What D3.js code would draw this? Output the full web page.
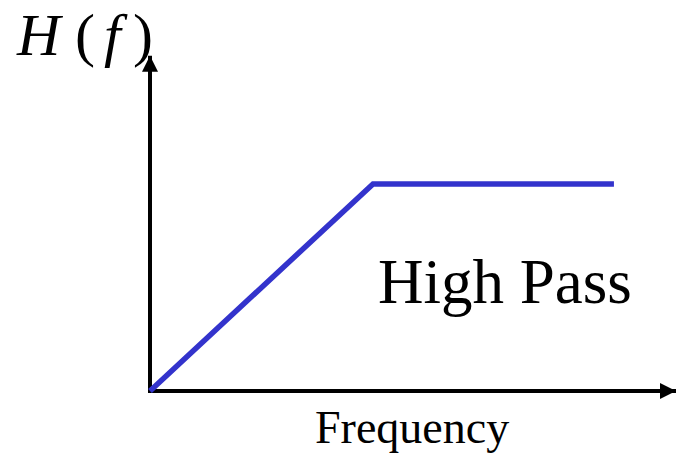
<!DOCTYPE html>
<html lang="en">
<head>
<meta charset="UTF-8">
<title>High Pass</title>
<style>
    body { margin: 0; padding: 0; background: #fff; }
    svg { display: block; }
</style>
</head>
<body>
<div id="chart"></div>
<script src="https://cdn.jsdelivr.net/npm/d3@7"></script>
<script>
// response curve: normalised frequency vs gain
const freq = [0, 0.424, 0.882];
const gain = [0, 1, 1];
const axisMax = { x: 1, y: 1.62 };

const w = 677;
const h = 460;
const serif = '"Liberation Serif", "Times New Roman", serif';

const xScale = d3.scaleLinear().domain([0, 1]).range([150, 676]);
const yScale = d3.scaleLinear().domain([0, 1]).range([391, 184]);

const svg = d3.select('#chart').append('svg')
    .attr('width', w)
    .attr('height', h);

// arrow heads
const defs = svg.append('defs');
defs.append('marker')
    .attr('id', 'arrow')
    .attr('viewBox', '0 0 16 16')
    .attr('refX', 16).attr('refY', 8)
    .attr('markerWidth', 16).attr('markerHeight', 16)
    .attr('markerUnits', 'userSpaceOnUse')
    .attr('orient', 'auto')
    .append('path')
    .attr('d', 'M0,0 L16,8 L0,16 Z')
    .attr('fill', '#000');

// x axis
svg.append('line')
    .attr('x1', xScale(0) - 2).attr('y1', yScale(0))
    .attr('x2', xScale(axisMax.x)).attr('y2', yScale(0))
    .attr('stroke', '#000').attr('stroke-width', 4)
    .attr('marker-end', 'url(#arrow)');

// y axis
svg.append('line')
    .attr('x1', xScale(0)).attr('y1', yScale(0) + 2)
    .attr('x2', xScale(0)).attr('y2', yScale(axisMax.y))
    .attr('stroke', '#000').attr('stroke-width', 4)
    .attr('marker-end', 'url(#arrow)');

const line = d3.line()
    .x((d, i) => xScale(freq[i]))
    .y(d => yScale(d));

svg.append('path')
    .datum(gain)
    .attr('d', line)
    .attr('fill', 'none')
    .attr('stroke', '#3333cc')
    .attr('stroke-width', 5.5)
    .attr('stroke-linejoin', 'miter');

svg.append('text')
    .attr('x', 378).attr('y', 303)
    .style('font-family', serif)
    .style('font-size', '63px')
    .text('High Pass');

svg.append('text')
    .attr('x', 315).attr('y', 443)
    .style('font-family', serif)
    .style('font-size', '46px')
    .text('Frequency');

// H(f) label
const lab = svg.append('text').attr('y', 55)
    .style('font-family', serif)
    .style('font-size', '60px');
lab.append('tspan').attr('x', 17).style('font-style', 'italic').text('H');
lab.append('tspan').attr('x', 75).text('(');
lab.append('tspan').attr('x', 104).style('font-style', 'italic').text('f');
lab.append('tspan').attr('x', 133).text(')');
</script>
</body>
</html>
